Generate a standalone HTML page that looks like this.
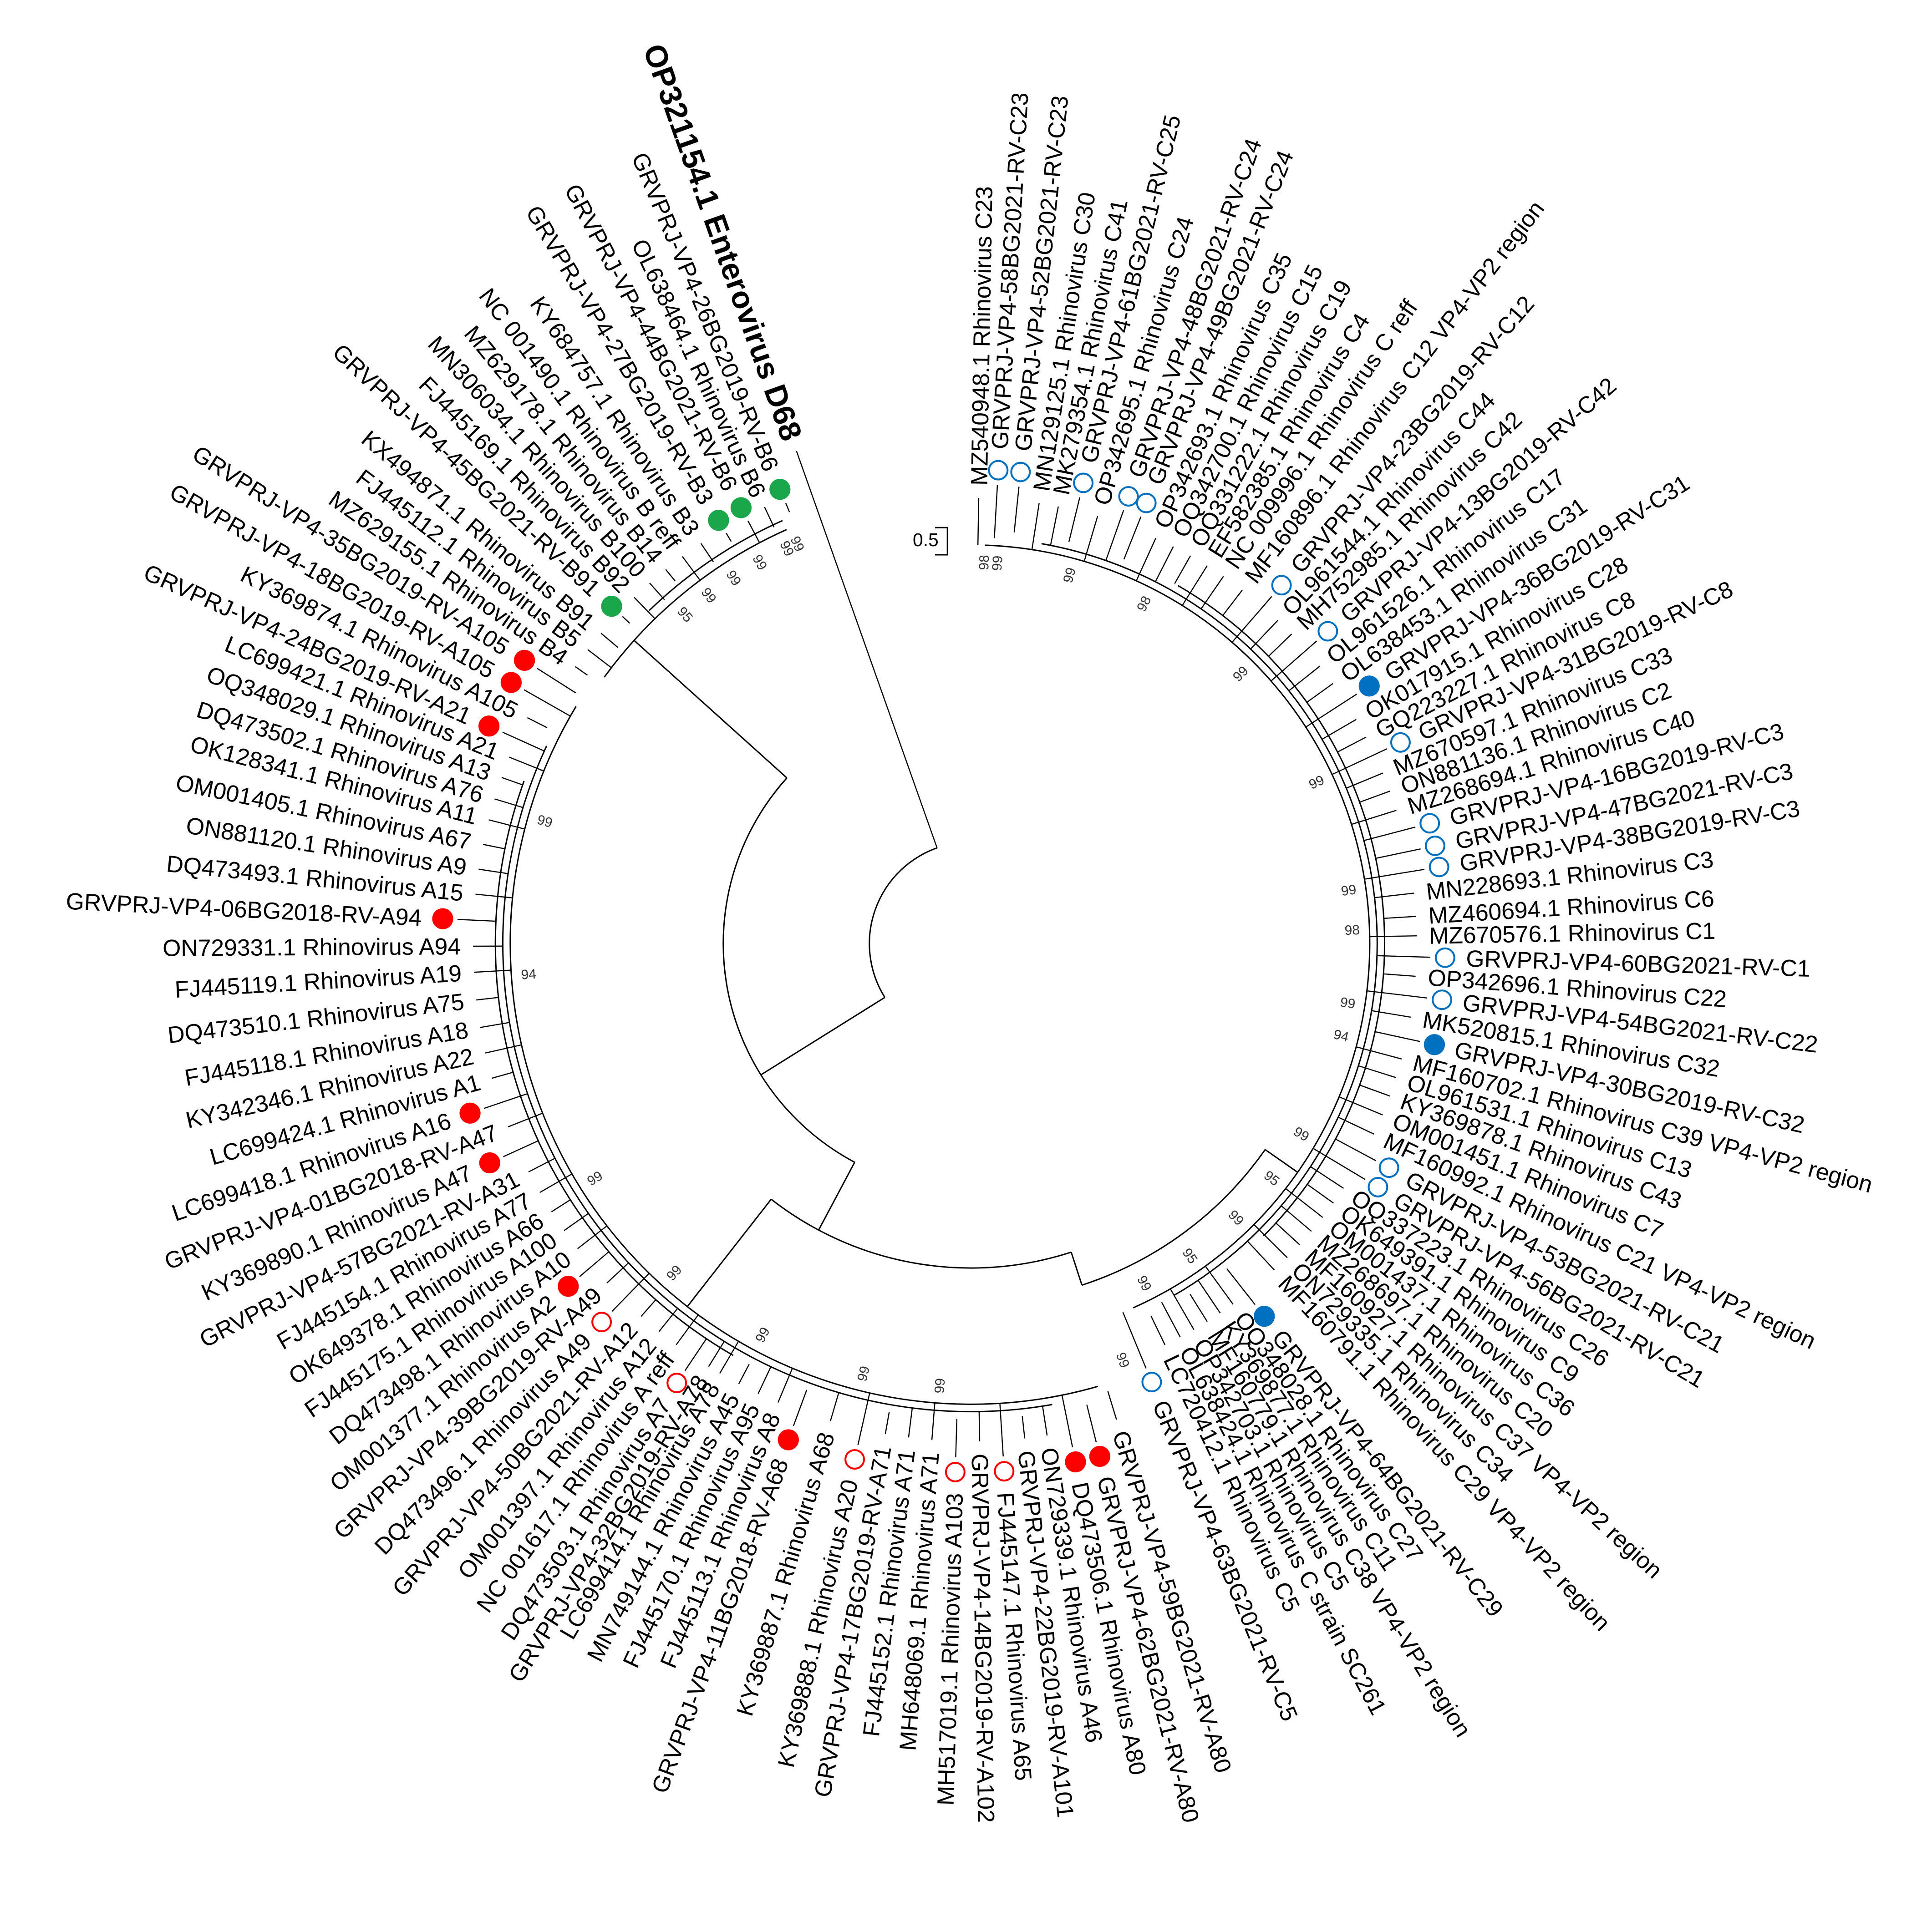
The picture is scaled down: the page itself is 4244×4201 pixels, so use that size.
<!DOCTYPE html>
<html>
<head>
<meta charset="utf-8">
<style>
html,body{margin:0;padding:0;background:#fff;}
svg{display:block;}
text{font-family:"Liberation Sans",Arial,sans-serif;}
</style>
</head>
<body>
<svg id="tree" width="4244" height="4201" viewBox="0 0 1560 1544" xmlns="http://www.w3.org/2000/svg">
<rect x="0" y="0" width="1560" height="1544" fill="#fff"/>
<g id="branches" fill="none" stroke="#000" stroke-width="1.1"></g>
<g id="boots"></g>
<g id="marks"></g>
<g id="labels"></g>
<g>
<path d="M755 426 H765 V448 H755" fill="none" stroke="#000" stroke-width="1.1"/>
<text x="737" y="441" font-size="15">0.5</text>
</g>
</svg>
<script>
// ---- data ----
const leafNames = [
"MZ540948.1 Rhinovirus C23","GRVPRJ-VP4-58BG2021-RV-C23","GRVPRJ-VP4-52BG2021-RV-C23","MN129125.1 Rhinovirus C30","MK279354.1 Rhinovirus C41","GRVPRJ-VP4-61BG2021-RV-C25","OP342695.1 Rhinovirus C24","GRVPRJ-VP4-48BG2021-RV-C24","GRVPRJ-VP4-49BG2021-RV-C24","OP342693.1 Rhinovirus C35","OQ342700.1 Rhinovirus C15","OQ331222.1 Rhinovirus C19","EF582385.1 Rhinovirus C4","NC 009996.1 Rhinovirus C reff","MF160896.1 Rhinovirus C12 VP4-VP2 region","GRVPRJ-VP4-23BG2019-RV-C12","OL961544.1 Rhinovirus C44","MH752985.1 Rhinovirus C42","GRVPRJ-VP4-13BG2019-RV-C42","OL961526.1 Rhinovirus C17","OL638453.1 Rhinovirus C31","GRVPRJ-VP4-36BG2019-RV-C31","OK017915.1 Rhinovirus C28","GQ223227.1 Rhinovirus C8","GRVPRJ-VP4-31BG2019-RV-C8","MZ670597.1 Rhinovirus C33","ON881136.1 Rhinovirus C2","MZ268694.1 Rhinovirus C40","GRVPRJ-VP4-16BG2019-RV-C3","GRVPRJ-VP4-47BG2021-RV-C3","GRVPRJ-VP4-38BG2019-RV-C3","MN228693.1 Rhinovirus C3","MZ460694.1 Rhinovirus C6","MZ670576.1 Rhinovirus C1","GRVPRJ-VP4-60BG2021-RV-C1","OP342696.1 Rhinovirus C22","GRVPRJ-VP4-54BG2021-RV-C22","MK520815.1 Rhinovirus C32","GRVPRJ-VP4-30BG2019-RV-C32","MF160702.1 Rhinovirus C39 VP4-VP2 region","OL961531.1 Rhinovirus C13","KY369878.1 Rhinovirus C43","OM001451.1 Rhinovirus C7","MF160992.1 Rhinovirus C21 VP4-VP2 region","GRVPRJ-VP4-53BG2021-RV-C21","GRVPRJ-VP4-56BG2021-RV-C21","OQ337223.1 Rhinovirus C26","OK649391.1 Rhinovirus C9","OM001437.1 Rhinovirus C36","MZ268697.1 Rhinovirus C20","MF160927.1 Rhinovirus C37 VP4-VP2 region","ON729335.1 Rhinovirus C34","MF160791.1 Rhinovirus C29 VP4-VP2 region","GRVPRJ-VP4-64BG2021-RV-C29","OQ348028.1 Rhinovirus C27","KY369877.1 Rhinovirus C11","MF160779.1 Rhinovirus C38 VP4-VP2 region","OP342703.1 Rhinovirus C5","OL638424.1 Rhinovirus C strain SC261","LC720412.1 Rhinovirus C5","GRVPRJ-VP4-63BG2021-RV-C5",
"GRVPRJ-VP4-59BG2021-RV-A80","GRVPRJ-VP4-62BG2021-RV-A80","DQ473506.1 Rhinovirus A80","ON729339.1 Rhinovirus A46","GRVPRJ-VP4-22BG2019-RV-A101","FJ445147.1 Rhinovirus A65","GRVPRJ-VP4-14BG2019-RV-A102","MH517019.1 Rhinovirus A103","MH648069.1 Rhinovirus A71","FJ445152.1 Rhinovirus A71","GRVPRJ-VP4-17BG2019-RV-A71","KY369888.1 Rhinovirus A20","KY369887.1 Rhinovirus A68","GRVPRJ-VP4-11BG2018-RV-A68","FJ445113.1 Rhinovirus A8","FJ445170.1 Rhinovirus A95","MN749144.1 Rhinovirus A45","LC699414.1 Rhinovirus A78","GRVPRJ-VP4-32BG2019-RV-A78","DQ473503.1 Rhinovirus A7","NC 001617.1 Rhinovirus A reff","OM001397.1 Rhinovirus A12","GRVPRJ-VP4-50BG2021-RV-A12","DQ473496.1 Rhinovirus A49","GRVPRJ-VP4-39BG2019-RV-A49","OM001377.1 Rhinovirus A2","DQ473498.1 Rhinovirus A10","FJ445175.1 Rhinovirus A100","OK649378.1 Rhinovirus A66","FJ445154.1 Rhinovirus A77","GRVPRJ-VP4-57BG2021-RV-A31","KY369890.1 Rhinovirus A47","GRVPRJ-VP4-01BG2018-RV-A47","LC699418.1 Rhinovirus A16","LC699424.1 Rhinovirus A1","KY342346.1 Rhinovirus A22","FJ445118.1 Rhinovirus A18","DQ473510.1 Rhinovirus A75","FJ445119.1 Rhinovirus A19","ON729331.1 Rhinovirus A94","GRVPRJ-VP4-06BG2018-RV-A94","DQ473493.1 Rhinovirus A15","ON881120.1 Rhinovirus A9","OM001405.1 Rhinovirus A67","OK128341.1 Rhinovirus A11","DQ473502.1 Rhinovirus A76","OQ348029.1 Rhinovirus A13","LC699421.1 Rhinovirus A21","GRVPRJ-VP4-24BG2019-RV-A21","KY369874.1 Rhinovirus A105","GRVPRJ-VP4-18BG2019-RV-A105","GRVPRJ-VP4-35BG2019-RV-A105",
"MZ629155.1 Rhinovirus B4","FJ445112.1 Rhinovirus B5","KX494871.1 Rhinovirus B91","GRVPRJ-VP4-45BG2021-RV-B91","FJ445169.1 Rhinovirus B92","MN306034.1 Rhinovirus B100","MZ629178.1 Rhinovirus B14","NC 001490.1 Rhinovirus B reff","KY684757.1 Rhinovirus B3","GRVPRJ-VP4-27BG2019-RV-B3","GRVPRJ-VP4-44BG2021-RV-B6","OL638464.1 Rhinovirus B6","GRVPRJ-VP4-26BG2019-RV-B6",
"OP321154.1 Enterovirus D68"
];
const leafAngles = [
-89,-86.7,-84,-81.2,-78.7,-76.3,-73.5,-70.6,-68.3,-65.5,-63,-60.5,-58,-55.5,-52.5,-49.1,-46.5,-44,-41.2,-38.5,-35.7,-32.9,-30.2,-27.6,-25.1,-22.5,-20,-17.4,-14.7,-11.9,-9.3,-6.5,-3.5,-1,1.7,4.2,6.8,9.5,12.3,15,17.5,20,22.6,25.3,28.2,30.9,33.3,35.6,37.9,40.2,42.5,44.8,47.1,51.8,54,56,58,60,62,64.2,67.6,
73,75.9,78.6,81.2,83.8,86.4,89,91.7,94.5,97.2,99.9,102.7,106.4,110.2,112.8,115.3,117.8,120.3,121.8,123.8,126.3,128.8,131.5,134.3,137,139.6,142.2,144.8,147.4,150,152.7,155.5,158.4,161.3,164.3,167.3,170.3,173.5,176.7,179.7,182.7,185.7,188.6,191.5,194.4,196.9,199.5,202,204.3,207,209.6,212.4,
215,217.5,220,223.2,225.8,228.3,230.8,233.3,236,239.2,242.2,244.7,247.2,
250.5
];
const leafMarks = [
"","O","O","","","O","","O","O","","","","","","","O","","","O","","","F","","","O","","","","O","O","O","","","","O","","O","","F","","","","","","O","O","","","","","","","","F","","","","","","","O",
"","F","F","","","O","","O","","","","O","","F","","","","","","O","","","","O","","F","","","","","","F","","F","","","","","","","F","","","","","","","","F","","F","F",
"","","","G","","","","","","G","G","","G",
""
];
const leafClades = [].concat(Array(61).fill("C"),Array(52).fill("A"),Array(13).fill("B"),["D"]);
const bootValues = ["98","99","99","98","99","99","99","98","99","94","99","95","99","95","99","99","99","99","99","99","99","94","99","95","99","99","99","99","99"];
const bootAngles = [-88,-86,-75,-63,-45,-25,-8,-2,9,14,30,38,46,55,63,70,94,104,118,132,148,176,196,229,233,237,241,245,246.5];

// ---- geometry ----
const cx = 784, cy = 762;
const cladeColor = {C:"#0070c0",A:"#ff0000",B:"#1aa64a",D:"#000"};
const backR = {C:322,A:372,B:366,D:82};
const labelR = {C:370,A:412,B:400,D:432};
const dotR = {C:383,A:427,B:398,D:0};
const NS = "http://www.w3.org/2000/svg";
function pol(r,deg){const a=deg*Math.PI/180;return [cx+r*Math.cos(a),cy+r*Math.sin(a)];}
function arcPath(r,a1,a2){const p=pol(r,a1),q=pol(r,a2);const large=(a2-a1)>180?1:0;return "M"+p[0].toFixed(2)+" "+p[1].toFixed(2)+" A"+r+" "+r+" 0 "+large+" 1 "+q[0].toFixed(2)+" "+q[1].toFixed(2);}
function radPath(a,r1,r2){const p=pol(r1,a),q=pol(r2,a);return "M"+p[0].toFixed(2)+" "+p[1].toFixed(2)+" L"+q[0].toFixed(2)+" "+q[1].toFixed(2);}

const gB = document.getElementById("branches");
function addPath(d,name,w){
  const p=document.createElementNS(NS,"path");
  p.setAttribute("d",d);
  if(w) p.setAttribute("stroke-width",w);
  
  
  gB.appendChild(p);
}
addPath(arcPath(82,148,250.5),"root-arc");
addPath(radPath(148,82,200),"root-branch-ab");
addPath(arcPath(200,118,222),"ab-arc");
addPath(radPath(222,200,backR.B),"b-clade-branch");
addPath(radPath(118,200,262),"ac-branch");
addPath(arcPath(262,72,128),"ac-arc");
addPath(radPath(128,262,backR.A),"a-clade-branch");
addPath(radPath(72,262,290),"c-stem");
addPath(arcPath(290,35,72),"c-stem-arc");
addPath(radPath(35,290,backR.C),"c-clade-branch");
addPath(arcPath(backR.C,-88,66),"c-clade-arc");
addPath(arcPath(backR.C+6,-80,60),"c-subclade-arc");
addPath(arcPath(backR.C+12,-60,45),"c-subclade-arc-2");
addPath(arcPath(backR.A,74,211),"a-clade-arc");
addPath(arcPath(backR.A+6,80,205),"a-subclade-arc");
addPath(arcPath(backR.A+12,120,200),"a-subclade-arc-2");
addPath(arcPath(backR.B,216,246),"b-clade-arc");
addPath(arcPath(backR.B+8,226,246),"b-subclade-arc");

const gM = document.getElementById("marks");
const gL = document.getElementById("labels");
for(let i=0;i<leafNames.length;i++){
  const a=leafAngles[i], cl=leafClades[i], mk=leafMarks[i];
  const col = mk==="G" ? "#1aa64a" : cladeColor[cl];
  let lr = labelR[cl], tipEnd = labelR[cl]-10;
  if(mk){ lr = dotR[cl]+17; tipEnd = dotR[cl]-12; }
  const base = cl==="D" ? 82 : backR[cl]+ (i%3)*6;
  addPath(radPath(a,base,tipEnd),"leaf-branch","0.9");
  if(mk){
    const c=document.createElementNS(NS,"circle");
    const p=pol(dotR[cl],a);
    c.setAttribute("cx",p[0].toFixed(2));c.setAttribute("cy",p[1].toFixed(2));
    c.setAttribute("r",mk==="O"?7.5:8.5);
    if(mk==="O"){c.setAttribute("fill","#fff");c.setAttribute("stroke",col);c.setAttribute("stroke-width","1.5");}
    else {c.setAttribute("fill",col);}
    
    
    gM.appendChild(c);
  }
  const t=document.createElementNS(NS,"text");
  const p=pol(lr,a);
  let rot=a, anchor="start";
  let na=((a%360)+360)%360;
  if(na>90 && na<270){rot=a-180;anchor="end";}
  t.setAttribute("x",p[0].toFixed(2));t.setAttribute("y",p[1].toFixed(2));
  t.setAttribute("text-anchor",anchor);
  t.setAttribute("dominant-baseline","central");
  t.setAttribute("transform","rotate("+rot.toFixed(2)+" "+p[0].toFixed(2)+" "+p[1].toFixed(2)+")");
  if(cl==="D"){t.setAttribute("font-size","25");t.setAttribute("font-weight","bold");}
  else t.setAttribute("font-size","19");
  t.textContent=leafNames[i];
  
  
  gL.appendChild(t);
}
const gBo=document.getElementById("boots");
for(let i=0;i<bootValues.length;i++){
  const a=bootAngles[i];
  const cl = (a<70)?"C":(a<214?"A":"B");
  const p=pol(backR[cl]-14,a);
  const t=document.createElementNS(NS,"text");
  t.setAttribute("x",p[0].toFixed(2));t.setAttribute("y",p[1].toFixed(2));
  t.setAttribute("font-size","11");t.setAttribute("fill","#333");
  t.setAttribute("text-anchor","middle");t.setAttribute("dominant-baseline","central");
  let na=((a%360)+360)%360; let rot=(na>90&&na<270)?a-180:a;
  t.setAttribute("transform","rotate("+rot.toFixed(2)+" "+p[0].toFixed(2)+" "+p[1].toFixed(2)+")");
  t.textContent=bootValues[i];
  
  
  gBo.appendChild(t);
}
</script>
</body>
</html>
